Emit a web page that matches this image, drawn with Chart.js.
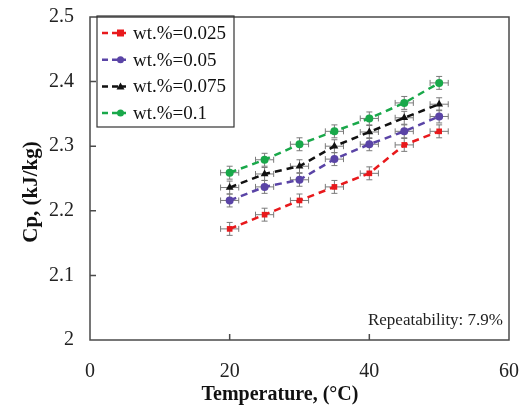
<!DOCTYPE html>
<html>
<head>
<meta charset="utf-8">
<script src="https://cdn.jsdelivr.net/npm/chart.js@4.4.0/dist/chart.umd.min.js"></script>
<style>
  html, body { margin: 0; padding: 0; background: #fff; }
  #wrap { width: 519px; height: 408px; }
</style>
</head>
<body>
<div id="wrap"><canvas id="cpChart" width="519" height="408"></canvas></div>
<script>
// --- Data ---
const temps = [20, 25, 30, 35, 40, 45, 50];
const seriesNames = ['wt.%=0.025', 'wt.%=0.05', 'wt.%=0.075', 'wt.%=0.1'];
const cp0025 = [2.172, 2.194, 2.216, 2.237, 2.258, 2.302, 2.323];
const cp005  = [2.216, 2.237, 2.248, 2.280, 2.303, 2.323, 2.346];
const cp0075 = [2.236, 2.257, 2.269, 2.300, 2.322, 2.344, 2.365];
const cp01   = [2.259, 2.279, 2.303, 2.323, 2.343, 2.367, 2.398];
const yErr = 0.01;   // kJ/kg
const xErr = 1.3;    // degC
const xTicks = [0, 20, 40, 60];
const yTicks = [2, 2.1, 2.2, 2.3, 2.4, 2.5];

const colors = ['#e8191c', '#5a44a6', '#111111', '#19a84a'];
const markers = ['rect', 'circle', 'triangle', 'circle'];
const serif = '"Liberation Serif", "Times New Roman", serif';

function toPoints(vals) {
    return temps.map((t, i) => ({ x: t, y: vals[i] }));
}

const allSeries = [cp0025, cp005, cp0075, cp01];

const datasets = allSeries.map((vals, i) => ({
    label: seriesNames[i],
    data: toPoints(vals),
    showLine: true,
    borderColor: colors[i],
    backgroundColor: colors[i],
    borderWidth: 2.5,
    borderDash: [7, 5],
    pointStyle: markers[i],
    pointRadius: markers[i] === 'triangle' ? 4.5 : 4,
    pointBorderWidth: 0,
    pointBackgroundColor: colors[i]
}));

// error bars, frame, inward ticks, legend and titles
const decorPlugin = {
    id: 'decor',
    beforeDatasetsDraw(chart) {
        const ctx = chart.ctx;
        const xs = chart.scales.x, ys = chart.scales.y;
        ctx.save();
        ctx.strokeStyle = '#7a7a7a';
        ctx.lineWidth = 1;
        chart.data.datasets.forEach(ds => {
            ds.data.forEach(p => {
                const px = xs.getPixelForValue(p.x);
                const py = ys.getPixelForValue(p.y);
                const y1 = ys.getPixelForValue(p.y + yErr);
                const y2 = ys.getPixelForValue(p.y - yErr);
                const x1 = xs.getPixelForValue(p.x - xErr);
                const x2 = xs.getPixelForValue(p.x + xErr);
                ctx.beginPath();
                ctx.moveTo(px, y1); ctx.lineTo(px, y2);
                ctx.moveTo(px - 3, y1); ctx.lineTo(px + 3, y1);
                ctx.moveTo(px - 3, y2); ctx.lineTo(px + 3, y2);
                ctx.moveTo(x1, py); ctx.lineTo(x2, py);
                ctx.moveTo(x1, py - 3); ctx.lineTo(x1, py + 3);
                ctx.moveTo(x2, py - 3); ctx.lineTo(x2, py + 3);
                ctx.stroke();
            });
        });
        ctx.restore();
    },
    afterDraw(chart) {
        const ctx = chart.ctx;
        const a = chart.chartArea;
        const xs = chart.scales.x, ys = chart.scales.y;
        ctx.save();
        // frame
        ctx.strokeStyle = '#4a4a4a';
        ctx.lineWidth = 1.5;
        ctx.strokeRect(a.left, a.top, a.right - a.left, a.bottom - a.top);
        // inward ticks
        ctx.beginPath();
        xTicks.slice(1, -1).forEach(v => {
            const px = xs.getPixelForValue(v);
            ctx.moveTo(px, a.bottom); ctx.lineTo(px, a.bottom - 6);
        });
        yTicks.slice(1, -1).forEach(v => {
            const py = ys.getPixelForValue(v);
            ctx.moveTo(a.left, py); ctx.lineTo(a.left + 6, py);
        });
        ctx.stroke();

        // legend
        const lx = 97, ly = 16, lw = 137, lh = 111;
        ctx.lineWidth = 1.2;
        ctx.strokeStyle = '#333';
        ctx.strokeRect(lx, ly, lw, lh);
        ctx.font = '19px ' + serif;
        ctx.textBaseline = 'middle';
        ctx.textAlign = 'left';
        seriesNames.forEach((name, i) => {
            const y = ly + 17 + i * 26.7;
            ctx.strokeStyle = colors[i];
            ctx.lineWidth = 2.5;
            ctx.setLineDash([6, 4]);
            ctx.beginPath();
            ctx.moveTo(102, y); ctx.lineTo(126, y);
            ctx.stroke();
            ctx.setLineDash([]);
            ctx.fillStyle = colors[i];
            ctx.beginPath();
            if (markers[i] === 'rect') {
                ctx.rect(117, y - 3.5, 7, 7);
            } else if (markers[i] === 'triangle') {
                ctx.moveTo(120.5, y - 4); ctx.lineTo(124.5, y + 3); ctx.lineTo(116.5, y + 3); ctx.closePath();
            } else {
                ctx.arc(120.5, y, 3.5, 0, Math.PI * 2);
            }
            ctx.fill();
            ctx.fillStyle = '#111';
            ctx.fillText(name, 133, y + 1);
        });

        // repeatability note
        ctx.font = '17px ' + serif;
        ctx.textAlign = 'right';
        ctx.fillStyle = '#222';
        ctx.fillText('Repeatability: 7.9%', 503, 321);

        // axis titles
        ctx.font = 'bold 20px ' + serif;
        ctx.textAlign = 'center';
        ctx.fillStyle = '#111';
        ctx.fillText('Temperature, (°C)', 280, 395);
        ctx.save();
        ctx.translate(32, 192);
        ctx.rotate(-Math.PI / 2);
        ctx.font = 'bold 21px ' + serif;
        ctx.fillText('Cp, (kJ/kg)', 0, 0);
        ctx.restore();
        ctx.restore();
    }
};

function noOverflow(s) {
    s.paddingTop = 0;
    s.paddingBottom = 0;
    s.paddingLeft = 0;
    s.paddingRight = 0;
}

new Chart(document.getElementById('cpChart').getContext('2d'), {
    type: 'scatter',
    data: { datasets: datasets },
    plugins: [decorPlugin],
    options: {
        responsive: false,
        animation: false,
        layout: { padding: { top: 17, right: 10, bottom: 0, left: 0 } },
        plugins: {
            legend: { display: false },
            tooltip: { enabled: false }
        },
        scales: {
            x: {
                type: 'linear',
                min: 0,
                max: 60,
                afterBuildTicks: s => { s.ticks = xTicks.map(v => ({ value: v })); },
                afterFit: s => { s.height = 68; noOverflow(s); },
                grid: { display: false, drawTicks: false },
                border: { display: false },
                ticks: { color: '#222', padding: 20, font: { family: serif, size: 20 }, callback: v => String(v) }
            },
            y: {
                type: 'linear',
                min: 2,
                max: 2.5,
                afterBuildTicks: s => { s.ticks = yTicks.map(v => ({ value: v })); },
                afterFit: s => { s.width = 90; noOverflow(s); },
                grid: { display: false, drawTicks: false },
                border: { display: false },
                ticks: { color: '#222', padding: 16, font: { family: serif, size: 20 }, callback: v => String(v) }
            }
        }
    }
});
</script>
</body>
</html>
